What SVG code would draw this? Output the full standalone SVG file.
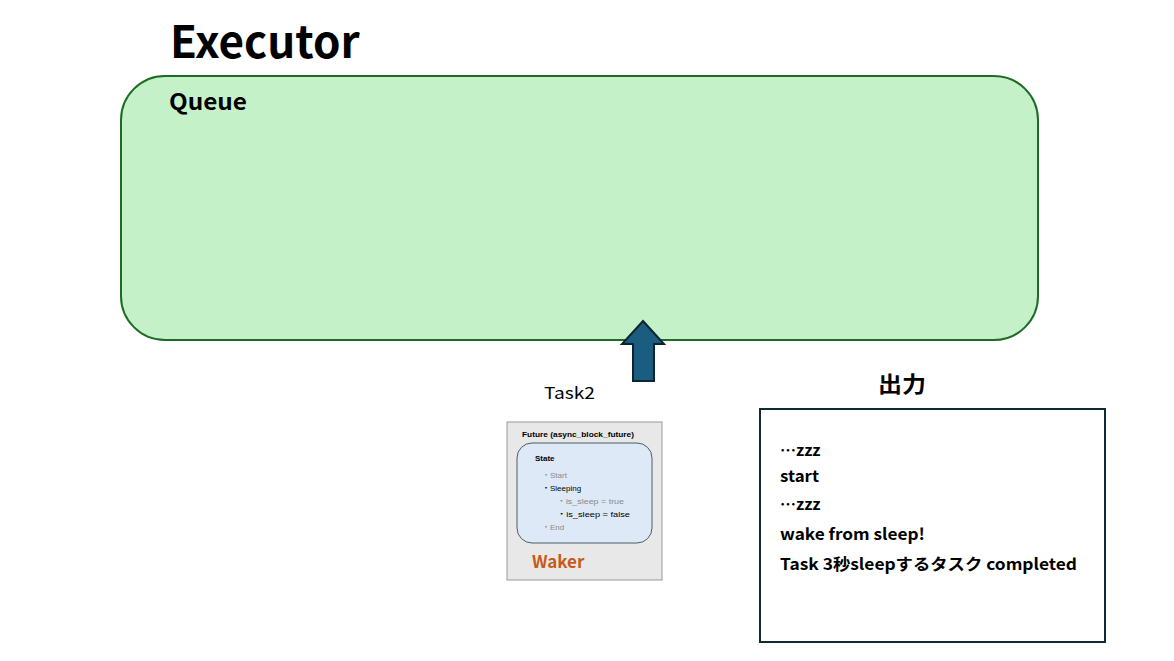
<svg xmlns="http://www.w3.org/2000/svg" width="1174" height="661" viewBox="0 0 1174 661">
<style>
text{font-family:"Noto Sans CJK JP","Liberation Sans",sans-serif;fill:#000}
.b{font-weight:bold}
.out{font-size:16px;font-weight:bold}
.st{font-size:8px;font-family:"Liberation Sans","Noto Sans CJK JP",sans-serif}
.g{fill:#8a8a8a}
</style>
<rect width="1174" height="661" fill="#fff"/>
<g id="executor">
<text x="170" y="58" class="b" font-size="44">Executor</text>
<rect x="121" y="76" width="917" height="264" rx="44" fill="#c4f1c8" stroke="#1f6b25" stroke-width="2"/>
<text x="169" y="110" class="b" font-size="22" textLength="78" lengthAdjust="spacingAndGlyphs">Queue</text>
</g>
<g id="connectors">
<polygon points="643,321 664,344 654,344 654,381 633,381 633,344 622,344" fill="#1a5d7e" stroke="#0e2433" stroke-width="2" stroke-linejoin="miter"/>
</g>
<g id="task2">
<text x="544" y="399" font-size="16" textLength="51" lengthAdjust="spacingAndGlyphs">Task2</text>
<rect x="507" y="422" width="155" height="158" fill="#e8e8e8" stroke="#9a9a9a" stroke-width="1"/>
<text x="522" y="437" class="st b" textLength="112" lengthAdjust="spacingAndGlyphs">Future (async_block_future)</text>
<rect x="517" y="443" width="135" height="100" rx="15" fill="#dde9f6" stroke="#4d5b69" stroke-width="1"/>
<text x="535" y="461" class="st b">State</text>
<text x="542" y="478" class="st g">・Start</text>
<text x="542" y="491" class="st" font-size="9">・Sleeping</text>
<text x="557" y="504" class="st g" textLength="67" lengthAdjust="spacingAndGlyphs">・is_sleep = true</text>
<text x="557" y="517" class="st" textLength="73" lengthAdjust="spacingAndGlyphs">・is_sleep = false</text>
<text x="542" y="530" class="st g">・End</text>
<text x="532" y="568" class="b" font-size="17" style="fill:#c55a1c">Waker</text>
</g>
<g id="output">
<text x="878" y="392" class="b" font-size="22" textLength="48" lengthAdjust="spacingAndGlyphs">出力</text>
<rect x="760" y="409" width="345" height="233" fill="#fff" stroke="#0f2a35" stroke-width="2"/>
<text x="780" y="456" class="out" xml:lang="ja" lang="ja">…zzz</text>
<text x="780" y="482" class="out" textLength="39" lengthAdjust="spacingAndGlyphs">start</text>
<text x="780" y="510" class="out" xml:lang="ja" lang="ja">…zzz</text>
<text x="780" y="540" class="out" textLength="145" lengthAdjust="spacingAndGlyphs">wake from sleep!</text>
<text x="780" y="570" class="out" textLength="297" lengthAdjust="spacingAndGlyphs">Task 3秒sleepするタスク completed</text>
</g>
</svg>
